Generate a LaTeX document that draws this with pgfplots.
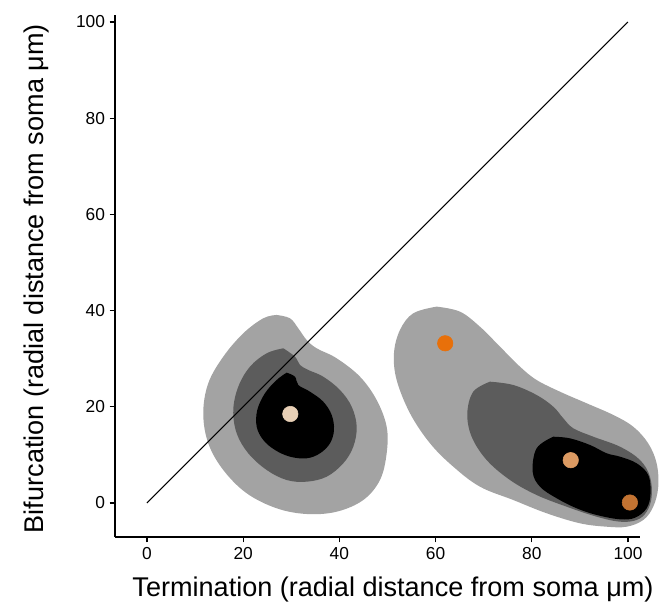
\documentclass[border=0pt]{standalone}
\usepackage{pgfplots}
\pgfplotsset{compat=1.18}
\usepackage{fontspec}
\setmainfont{Liberation Sans}
\definecolor{lgray}{HTML}{A3A3A3}
\definecolor{dgray}{HTML}{5C5C5C}
\definecolor{ptbeige}{HTML}{E8D0B6}
\definecolor{ptorange}{HTML}{E8700A}
\definecolor{ptlight}{HTML}{DC9A62}
\definecolor{ptbrown}{HTML}{C27332}
\begin{document}
\begin{tikzpicture}
\begin{axis}[
  scale only axis, width=393.75pt, height=391.5pt,
  xmin=-6.65, xmax=102.5, ymin=-7.07, ymax=101.45,
  axis x line=bottom, axis y line=left,
  axis line style={-, line width=1.1pt},
  tick align=outside, major tick length=4pt,
  tick style={black, line width=0.9pt},
  xtick={0,20,...,100}, ytick={0,20,...,100},
  tick label style={font=\fontsize{13}{15}\selectfont},
  /pgf/number format/assume math mode=true,
  clip=false,
  xlabel={Termination (radial distance from soma μm)},
  ylabel={Bifurcation (radial distance from soma μm)},
  label style={font=\fontsize{20.3}{24}\selectfont},
  x label style={at={(axis description cs:0.5295,-0.1015)}, anchor=center},
  y label style={at={(axis description cs:-0.1486,0.495)}, anchor=center, rotate=0},
]
% left cluster density contours
\addplot[fill=lgray, draw=none, smooth, tension=0.6] coordinates {
(26.96,39.09) (29.73,38.40) (31.46,36.31) (33.20,33.89) (35.28,32.16) (39.44,30.08)
(44.28,26.26) (47.75,21.41) (49.83,15.86) (49.83,10.33) (48.44,4.78) (44.97,0.62)
(39.44,-1.81) (33.20,-2.29) (26.96,-1.10) (20.73,2.02) (15.86,6.86) (12.74,12.41)
(11.70,18.65) (12.74,24.89) (15.86,30.42) (20.02,35.28) (24.18,38.40) (26.96,39.09)};
\addplot[fill=dgray, draw=none, smooth, tension=0.6] coordinates {
(28.34,32.16) (30.77,30.42) (31.81,28.69) (33.54,27.65) (36.65,26.26) (40.12,23.49)
(42.56,20.02) (43.60,15.86) (42.89,11.70) (40.81,8.25) (37.36,5.47) (33.20,4.43)
(29.04,4.78) (24.89,6.86) (21.06,10.33) (18.65,14.49) (17.94,19.33) (18.98,24.18)
(21.41,28.34) (24.89,31.12) (28.34,32.16)};
\addplot[fill=black, draw=none, smooth, tension=0.6] coordinates {
(29.04,27.09) (30.77,26.26) (31.46,24.53) (33.89,23.14) (36.65,21.06) (38.40,18.30)
(38.88,15.18) (38.05,12.41) (35.97,10.33) (33.20,9.29) (29.73,9.63) (26.61,11.02)
(24.18,13.10) (22.81,15.86) (22.93,19.33) (24.53,22.81) (26.96,25.57) (29.04,27.09)};
% right cluster density contours
\addplot[fill=lgray, draw=none, smooth, tension=0.6] coordinates {
(60.22,40.82) (65.07,39.78) (69.23,36.65) (73.39,32.50) (77.55,28.34) (81.01,25.57)
(85.86,23.14) (91.41,20.73) (96.95,18.30) (101.1,15.86) (104.2,12.41) (105.96,8.25)
(106.3,3.39) (105.26,-0.77) (103.18,-3.53) (99.73,-4.93) (95.57,-4.93) (90.02,-4.22)
(83.10,-2.14) (76.15,0.62) (69.23,3.39) (63.68,7.55) (58.84,12.41) (54.68,18.65)
(51.91,25.57) (51.35,31.12) (52.60,35.97) (55.36,39.44) (60.22,40.82)};
\addplot[fill=dgray, draw=none, smooth, tension=0.6] coordinates {
(71.31,25.22) (76.15,24.53) (81.01,22.45) (84.47,20.02) (86.55,17.61) (88.63,15.53)
(92.79,13.78) (98.34,11.70) (102.5,8.94) (104.57,5.47) (104.93,1.31) (103.89,-1.81)
(101.81,-3.53) (98.34,-3.89) (93.49,-2.85) (87.25,-0.77) (81.01,1.66) (75.47,4.78)
(70.62,8.94) (67.50,13.78) (66.60,18.65) (67.84,23.14) (71.31,25.22)};
\addplot[fill=black, draw=none, smooth, tension=0.6] coordinates {
(84.47,13.78) (87.94,13.44) (92.10,12.06) (95.57,10.33) (98.34,9.63) (101.81,8.25)
(104.22,5.82) (104.7,2.02) (103.89,-1.10) (101.46,-3.06) (98.34,-3.39) (93.49,-2.49)
(89.33,-1.10) (85.18,0.98) (81.70,3.39) (80.19,6.51) (81.01,11.37) (84.47,13.78)};
% identity line
\addplot[black, line width=0.8pt] coordinates {(0,0) (100,100)};
% medians
\addplot[ptbeige, only marks, mark=*, mark size=5.8pt, mark options={fill=ptbeige, draw=ptbeige}] coordinates {(29.8,18.5)};
\addplot[ptorange, only marks, mark=*, mark size=5.8pt, mark options={fill=ptorange, draw=ptorange}] coordinates {(62.0,33.2)};
\addplot[ptlight, only marks, mark=*, mark size=5.8pt, mark options={fill=ptlight, draw=ptlight}] coordinates {(88.1,8.9)};
\addplot[ptbrown, only marks, mark=*, mark size=5.8pt, mark options={fill=ptbrown, draw=ptbrown}] coordinates {(100.4,0.1)};
\end{axis}
\pgfresetboundingbox
\path (-86.25pt,-53.25pt) rectangle (415.5pt,402.75pt);
\end{tikzpicture}
\end{document}
